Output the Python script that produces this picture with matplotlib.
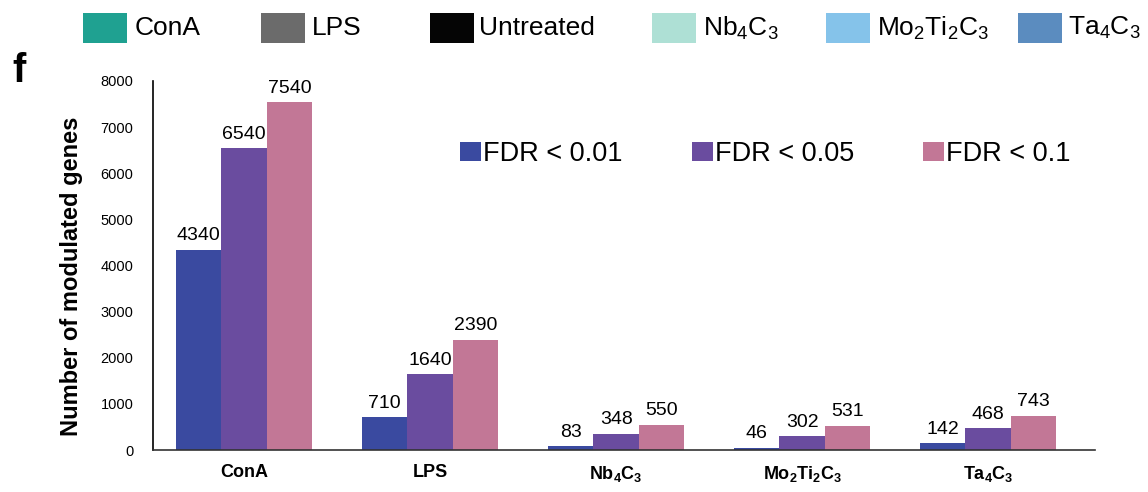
import matplotlib
matplotlib.use("Agg")
import matplotlib.pyplot as plt
from matplotlib.patches import Rectangle
import numpy as np

plt.rcParams['font.family'] = ['Liberation Sans', 'DejaVu Sans']
plt.rcParams['mathtext.fontset'] = 'custom'
plt.rcParams['mathtext.rm'] = 'Liberation Sans'
plt.rcParams['mathtext.it'] = 'Liberation Sans:italic'
plt.rcParams['mathtext.bf'] = 'Liberation Sans:bold'

categories = ["ConA", "LPS", r"Nb$_\mathbf{4}$C$_\mathbf{3}$", r"Mo$_\mathbf{2}$Ti$_\mathbf{2}$C$_\mathbf{3}$", r"Ta$_\mathbf{4}$C$_\mathbf{3}$"]
series_names = ["FDR < 0.01", "FDR < 0.05", "FDR < 0.1"]
fdr001 = [4340, 710, 83, 46, 142]
fdr005 = [6540, 1640, 348, 302, 468]
fdr01 = [7540, 2390, 550, 531, 743]
yticks = [0, 1000, 2000, 3000, 4000, 5000, 6000, 7000, 8000]

top_labels = ["ConA", "LPS", "Untreated", r"Nb$_\mathrm{4}$C$_\mathrm{3}$", r"Mo$_\mathrm{2}$Ti$_\mathrm{2}$C$_\mathrm{3}$", r"Ta$_\mathrm{4}$C$_\mathrm{3}$"]
top_colors = ["#1fa191", "#6b6b6b", "#050505", "#aee0d5", "#85c3ea", "#5b8cbf"]
bar_colors = ["#3a4aa0", "#6a4c9f", "#c27796"]

W, H = 1148, 492
fig = plt.figure(figsize=(W / 100, H / 100), dpi=100)
ax = fig.add_axes([153 / W, 42 / H, 942 / W, 369 / H])

x = np.arange(len(categories))
w = 0.245
for i, (vals, col, name) in enumerate(zip([fdr001, fdr005, fdr01], bar_colors, series_names)):
    pos = x + (i - 1) * w
    ax.bar(pos, vals, width=w, color=col, label=name)
    for p, v in zip(pos, vals):
        ax.annotate(str(v), (p, v), xytext=(0, 4), textcoords='offset points',
                    ha='center', va='bottom', fontsize=14)

ax.set_xlim(-0.49, 4.575)
ax.set_ylim(0, 8000)
ax.set_yticks(yticks)
ax.set_yticklabels([str(t) for t in yticks], fontsize=10.5)
ax.set_xticks(x)
ax.set_xticklabels(categories, fontsize=13, fontweight='bold')
ax.tick_params(axis='both', length=0)
ax.tick_params(axis='y', pad=14)
ax.tick_params(axis='x', pad=10)
for s in ['top', 'right']:
    ax.spines[s].set_visible(False)
ax.spines['left'].set_linewidth(1.2)
ax.spines['bottom'].set_linewidth(1.2)
ax.spines['bottom'].set_color('#333333')
ax.set_ylabel("Number of modulated genes", fontsize=17, fontweight='bold')
ax.yaxis.set_label_coords(-0.0743, 0.4715)

ax.legend(loc='center left', bbox_to_anchor=(460 / W, 1 - 154 / H),
          bbox_transform=fig.transFigure, ncol=3, frameon=False,
          fontsize=19.5, handlelength=0.775, handleheight=0.66, handletextpad=0.08,
          columnspacing=2.55, borderpad=0, borderaxespad=0)

# top legend (group colour key)
sq_x = [83, 261, 430, 652, 826, 1018]
tx_x = [135, 312, 479, 703, 877, 1068]
for sx, tx, lab, col in zip(sq_x, tx_x, top_labels, top_colors):
    fig.patches.append(Rectangle((sx / W, 1 - 43 / H), 44 / W, 30 / H,
                                 transform=fig.transFigure, facecolor=col,
                                 edgecolor='none', figure=fig))
    fig.text(tx / W, 1 - 28 / H, lab, fontsize=19, va='center', ha='left')

fig.text(12 / W, 1 - 82 / H, "f", fontsize=29, fontweight='bold', va='baseline')

fig.savefig("out.png", dpi=100)
